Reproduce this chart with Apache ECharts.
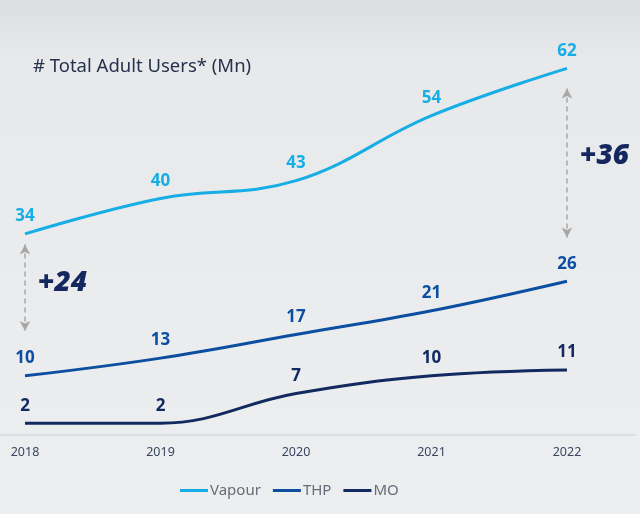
<!DOCTYPE html>
<html><head><meta charset="utf-8">
<script src="https://cdn.jsdelivr.net/npm/echarts@6/dist/echarts.min.js"></script>
<style>html,body{margin:0;padding:0;}#c{width:640px;height:514px;}</style>
</head><body><div id="c"></div>
<script>
const years = ['2018','2019','2020','2021','2022'];
const vapour = [34, 40, 43, 54, 62];
const thp = [10, 13, 17, 21, 26];
const mo = [2, 2, 7, 10, 11];
const gap2018 = '+24';
const gap2022 = '+36';

const FONT = '"Noto Sans", "Open Sans", sans-serif';
const chart = echarts.init(document.getElementById('c'));

function lineSeries(name, data, color) {
  return {
    name, type: 'line', data, smooth: 0.4,
    symbol: 'circle', symbolSize: 0, showSymbol: true,
    lineStyle: { color, width: 3 }, itemStyle: { color },
    label: { show: true, position: 'top', distance: 9, color, fontSize: 17, fontWeight: 'bold', fontFamily: FONT },
    emphasis: { disabled: true }
  };
}
const arrowStyle = { color: '#a8a8a8', type: [5, 4], width: 1.5 };
const s1 = lineSeries('Vapour', vapour, '#17aee6');
s1.markLine = {
  silent: true, symbol: ['arrow', 'arrow'], symbolSize: [8, 10],
  lineStyle: arrowStyle, label: { show: false },
  data: [
    [{ coord: ['2018', 32.2] }, { coord: ['2018', 17.6] }],
    [{ coord: ['2022', 58.6] }, { coord: ['2022', 33.4] }]
  ]
};

chart.setOption({
  backgroundColor: new echarts.graphic.LinearGradient(0, 0, 0, 1, [
    { offset: 0, color: '#dcdde0' }, { offset: 0.12, color: '#e8e9eb' }, { offset: 1, color: '#eceeef' }
  ]),
  animation: false,
  title: { text: '# Total Adult Users* (Mn)', left: 28, top: 52, textStyle: { color: '#27314d', fontSize: 18.5, fontWeight: 'normal', fontFamily: FONT } },
  grid: { left: 25, right: 73, top: 21, bottom: 79 },
  xAxis: {
    type: 'category', data: years, boundaryGap: false,
    axisLine: { show: false }, axisTick: { show: false },
    axisLabel: { color: '#3b4563', fontSize: 12.5, margin: 11, fontFamily: FONT }
  },
  yAxis: { type: 'value', min: 0, max: 70, show: false, splitLine: { show: false } },
  legend: {
    bottom: 11, left: 175, icon: 'rect', itemWidth: 28, itemHeight: 3, itemGap: 12,
    textStyle: { color: '#6a6a78', fontSize: 15, fontFamily: FONT, padding: [0, 0, 0, -3] },
    data: ['Vapour', 'THP', 'MO']
  },
  graphic: [
    { type: 'line', shape: { x1: 0, y1: 435, x2: 636, y2: 435 }, style: { stroke: '#d9dadd', lineWidth: 1.5 }, silent: true },
    { type: 'text', left: 38, top: 269, style: { text: gap2018, fill: '#14275e', font: 'italic 900 28px ' + FONT } },
    { type: 'text', left: 580, top: 142, style: { text: gap2022, fill: '#14275e', font: 'italic 900 28px ' + FONT } }
  ],
  series: [
    s1,
    lineSeries('THP', thp, '#0c4fa0'),
    lineSeries('MO', mo, '#112a60')
  ]
});
</script></body></html>
